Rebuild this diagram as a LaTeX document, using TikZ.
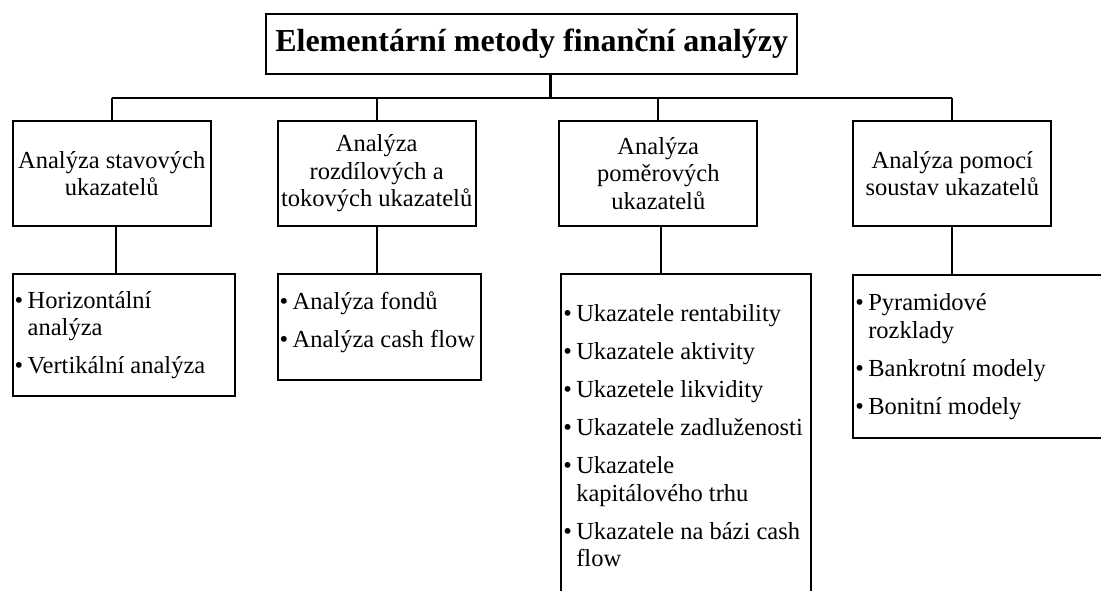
\documentclass[tikz,border=0pt]{standalone}
\usepackage{fontspec}
\setmainfont{Liberation Serif}
\usetikzlibrary{positioning}

% one bullet item with hanging indent
\newcommand{\bul}[1]{\par\parskip=10.5pt\hangindent=13pt\hangafter=1\noindent\makebox[13pt][l]{\textbullet}#1\par}
% list block of given width
\newcommand{\bullist}[2]{\begin{minipage}{#1}\raggedright\parskip=10.5pt #2\end{minipage}}

\begin{document}
\begin{tikzpicture}[
    x=1pt, y=1pt,
    box/.style={
      rectangle,
      draw=black,
      line width=2pt,
      inner sep=1pt,
      fill=white,
      font=\fontsize{24.5}{27.5}\selectfont
    },
    head/.style={box, align=center, minimum width=531pt, minimum height=60pt,
      font=\bfseries\fontsize{32}{38}\selectfont},
    group/.style={box, align=center, minimum width=198pt, minimum height=105pt},
    list/.style={box, inner xsep=2pt, anchor=north west},
    link/.style={line width=1.7pt, color=black}
]
\useasboundingbox (0,0) rectangle (1101,-591);
\clip (0,0) rectangle (1101,-591);

\node[head] (head) at (531.7,-43.8) {Elementární metody finanční analýzy};

\node[group] (stav) at (111.7,-173.5) {Analýza stavových\\ukazatelů};
\node[group, right=65pt of stav] (tok) {Analýza\\rozdílových a\\tokových ukazatelů};
\node[group, right=81.6pt of tok] (pomer) {Analýza\\poměrových\\ukazatelů};
\node[group, right=94pt of pomer] (soust) {Analýza pomocí\\soustav ukazatelů};

\node[list, minimum width=222pt, minimum height=122pt, below=46pt of stav.south west, anchor=north west] (hor)
  {\bullist{218pt}{\bul{Horizontální\newline analýza}\bul{Vertikální analýza}}};
\node[list, minimum width=203pt, minimum height=106pt, below=46pt of tok.south west, anchor=north west] (fond)
  {\bullist{199pt}{\bul{Analýza fondů}\bul{Analýza cash flow}\vspace{10pt}}};
\node[list, minimum width=249.6pt, minimum height=324pt, below=46pt of pomer.south west, anchor=north west, xshift=2pt] (ukaz)
  {\bullist{245.6pt}{\bul{Ukazatele rentability}\bul{Ukazatele aktivity}\bul{Ukazetele likvidity}\bul{Ukazatele zadluženosti}\bul{Ukazatele\newline kapitálového trhu}\bul{Ukazatele na bázi cash\newline flow}}};
\node[list, minimum width=260pt, minimum height=163pt, below=47pt of soust.south west, anchor=north west] (model)
  {\bullist{256pt}{\bul{Pyramidové\newline rozklady}\bul{Bankrotní modely}\bul{Bonitní modely}}};

\coordinate[below=23pt of head.south, xshift=19pt] (fork);

\draw[link, line width=3pt] ([xshift=19pt]head.south) -- (fork);
\draw[link, line width=2.3pt] (stav.north |- fork) -- (soust.north |- fork);
\draw[link] (stav.north) -- (stav.north |- fork);
\draw[link] (tok.north) -- (tok.north |- fork);
\draw[link] (pomer.north) -- (pomer.north |- fork);
\draw[link] (soust.north) -- (soust.north |- fork);

\draw[link] ([xshift=4pt]stav.south) -- ([xshift=4pt]stav.south |- hor.north);
\draw[link] (tok.south) -- (tok.south |- fond.north);
\draw[link] ([xshift=3pt]pomer.south) -- ([xshift=3pt]pomer.south |- ukaz.north);
\draw[link] (soust.south) -- (soust.south |- model.north);
\end{tikzpicture}
\end{document}
